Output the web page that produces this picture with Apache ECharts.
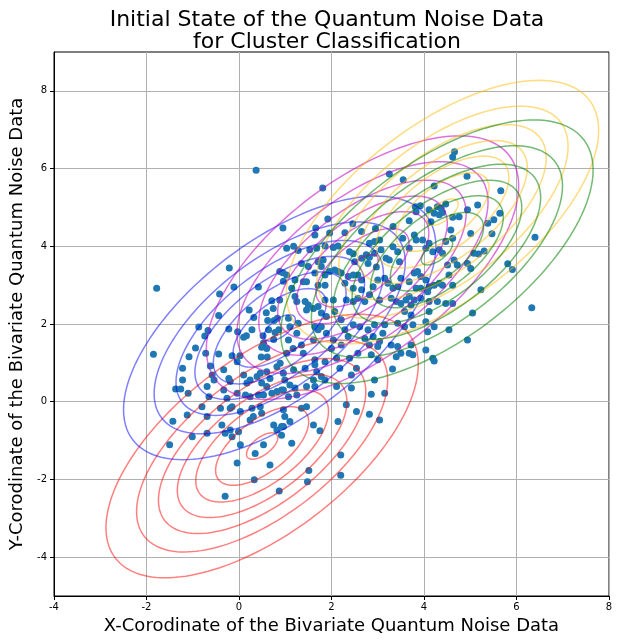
<!DOCTYPE html>
<html><head><meta charset="utf-8">
<script src="https://cdn.jsdelivr.net/npm/echarts@6/dist/echarts.min.js"></script>
<style>html,body{margin:0;padding:0;background:#fff}#c{width:619px;height:642px}</style>
</head><body><div id="c"></div>
<script>
const titleText = 'Initial State of the Quantum Noise Data\nfor Cluster Classification';
const xLabel = 'X-Corodinate of the Bivariate Quantum Noise Data';
const yLabel = 'Y-Corodinate of the Bivariate Quantum Noise Data';
const xRange = [-4, 8];
const yRange = [-5, 9];
const xTicks = [-4, -2, 0, 2, 4, 6, 8];
const yTicks = [-4, -2, 0, 2, 4, 6, 8];

// Gaussian components drawn as contour rings: centres, shared outer-contour shape, ring scales
const clusterCenters = [[0.50, -1.14], [0.88, 1.90], [2.67, 3.45], [4.40, 4.88], [4.28, 3.86]];
const contourCov = [11.4, 7.1, 11.5];
const ringScales = [1, 0.804, 0.664, 0.543, 0.425, 0.298, 0.10];
const ringColors = ['rgba(255,0,0,0.5)', 'rgba(0,0,255,0.5)', 'rgba(191,0,191,0.55)', 'rgba(255,185,0,0.5)', 'rgba(0,128,0,0.55)'];

const scatterPoints = [
[0.37,5.96],[1.81,5.50],[1.92,4.70],[0.95,4.47],[1.66,4.47],[-1.78,2.92],
[4.66,6.43],[4.62,6.30],[3.25,5.86],[3.55,5.71],[4.93,5.80],[4.22,5.55],[5.66,5.43],[5.16,5.06],[5.64,4.85],[5.51,4.68],[5.38,4.59],[5.47,4.32],[6.40,4.23],[5.81,3.55],[5.91,3.40],[5.23,2.88],[6.33,2.42],[5.18,3.80],[5.30,3.88],[2.46,4.58],[2.95,4.46],
[-1.85,1.22],[-1.37,0.33],[-1.26,0.33],[-1.10,0.22],[-1.43,-0.50],[-1.50,-1.11],[-1.22,0.86],[-1.22,0.56],[-0.30,-2.43],[0.33,-2.01],[0.87,-2.30],[1.51,-1.77],[1.48,-2.06],[0.67,-1.63],
[3.32,0.84],[4.22,1.05],[3.15,0.22],[2.20,-1.89],
[-0.21,3.44],[-0.42,2.77],[-0.11,2.95],[-0.44,2.22],[-0.87,1.92],[-0.67,1.83],[-0.74,1.69],[-0.22,1.87],[-0.03,1.80],[0.10,1.66],[0.16,1.70],[0.22,2.36],[0.32,2.17],[0.42,2.95],[0.59,2.29],[0.74,2.40],[0.62,2.09],[0.76,2.09],[0.83,2.15],[0.71,2.60],[0.88,2.62],[0.88,3.35],[0.95,3.32],[0.96,3.10],[0.28,1.85],[0.52,1.70],[0.53,1.51],[0.64,1.85],[0.78,1.78],[0.86,1.85],[0.75,1.60],[-0.94,1.38],[-0.72,1.25],[-0.44,1.23],[-0.15,1.18],[0.02,1.18],[0.49,1.40],[0.60,1.37],[0.48,1.15],[0.61,1.15],
[1.64,4.29],[2.39,3.86],[2.47,3.81],[2.65,3.69],[2.75,3.78],[2.82,3.72],[2.93,3.82],[2.50,3.60],[2.79,3.56],[2.97,3.47],
[1.03,3.95],[1.18,4.00],[1.28,3.89],[1.53,3.91],[1.68,3.95],[1.86,4.01],[2.04,3.97],[2.14,4.01],[1.96,4.34],[2.29,4.35],[2.65,4.38],[2.82,4.08],[2.93,4.12],
[1.35,3.56],[1.50,3.48],[1.71,3.60],[1.82,3.65],[1.78,3.48],[1.64,3.31],[1.86,3.26],[1.96,3.35],[2.07,3.39],[2.14,3.35],[2.21,3.31],[2.36,3.22],[2.47,3.26],[2.57,3.26],[2.65,3.13],
[1.03,3.26],[1.21,3.13],[1.14,2.92],[1.39,3.09],[1.46,3.09],[1.71,3.00],[1.86,3.00],
[2.29,3.05],[2.47,2.92],[2.65,2.88],[2.90,2.96],[2.82,2.75],[2.57,2.66],[2.72,2.58],[2.47,2.58],[2.32,2.62],
[1.21,2.71],[1.25,2.58],[1.43,2.58],[1.50,2.49],[1.46,2.36],[1.61,2.40],[1.71,2.45],[1.86,2.62],[2.04,2.62],[1.78,2.28],[1.89,2.19],[2.07,2.32],[2.21,2.11],
[1.07,2.15],[1.10,1.93],[1.28,2.02],[1.25,1.76],[1.07,1.59],[1.35,1.46],[1.17,1.37],[1.03,1.25],[1.39,1.25],[1.64,1.93],[1.71,1.85],[1.78,1.93],[1.61,1.59],[1.89,1.76],[2.04,1.59],[2.00,1.37],[2.29,1.85],[2.36,1.68],[2.47,1.98],[2.61,1.93],[2.79,1.85],[2.72,1.63],[2.93,1.98],[2.90,1.68],[2.82,1.46],[3.00,1.42],[2.57,1.25],[2.86,1.21],[2.21,1.46],
[3.81,5.02],[3.92,5.04],[3.83,4.89],[4.11,4.94],[4.29,5.02],[4.37,4.98],[4.47,5.09],[4.22,4.85],[4.33,4.81],[4.40,4.87],[4.15,4.63],[4.62,4.75],[4.76,4.76],[4.94,4.94],[3.68,4.66],
[3.33,4.51],[3.54,4.21],[3.79,4.29],[3.83,4.16],[3.97,4.16],[4.11,4.08],[4.04,3.95],[4.19,3.86],[4.33,3.91],[4.40,3.82],[4.47,4.12],[4.58,4.42],[4.62,4.21],[5.01,4.33],
[3.04,4.16],[3.07,3.91],[3.18,3.69],[3.25,3.65],[3.33,3.99],[3.43,3.86],[3.47,3.60],[3.68,3.95],
[4.51,3.52],[4.65,3.65],[4.72,3.52],[4.94,3.56],[5.01,3.43],[5.08,3.82],[4.54,3.26],[4.62,3.00],[4.40,3.00],
[3.00,3.13],[3.15,3.18],[3.22,3.05],[3.33,2.92],[3.43,2.96],[3.50,3.18],[3.68,3.09],[3.79,3.31],[3.86,3.35],[3.93,3.22],[4.04,3.13],[4.11,2.96],[4.22,3.00],[4.33,3.05],[4.08,2.83],[3.93,2.92],[3.83,2.92],
[3.04,2.62],[3.29,2.66],[3.40,2.58],[3.50,2.53],[3.61,2.62],[3.68,2.71],[3.72,2.49],[3.79,2.62],[3.93,2.66],[4.11,2.58],[4.29,2.58],[4.47,2.53],[4.62,2.53],[4.11,2.32],[3.72,2.23],[3.58,2.32],
[3.15,1.98],[3.43,2.02],[3.58,1.93],[3.76,1.98],[4.04,2.06],[4.08,1.80],[4.22,1.93],[4.54,1.85],[4.94,1.59],[5.05,2.28],
[3.29,1.46],[3.43,1.42],[3.72,1.46],[3.50,1.25],[3.68,1.25],[3.76,1.21],[3.40,1.16],[3.11,1.76],[3.04,1.55],[4.04,1.33],[4.19,1.12],
[-1.08,1.16],[-0.04,1.03],
[-0.62,0.92],[-0.58,0.69],[-0.54,0.56],[-0.22,0.60],[-0.19,0.52],[-0.33,0.82],[0.10,0.69],[0.17,0.48],[0.24,0.56],[0.39,0.65],[0.46,0.73],[0.60,0.77],[0.82,0.90],[0.89,0.99],[0.67,0.60],[0.49,0.48],[0.60,0.39],
[-0.69,0.39],[-0.33,0.30],[-0.26,0.09],[-0.04,0.22],[0.14,0.17],[0.24,0.13],[0.42,0.17],[0.53,0.17],[0.71,0.22],[0.82,0.26],[0.92,0.30],
[-0.65,0.13],[-0.80,-0.13],[-1.12,-0.34],[-0.69,-0.38],[-0.40,-0.17],[-0.19,-0.17],[-0.15,-0.13],[0.03,-0.25],[0.28,-0.17],[0.46,-0.13],[0.49,-0.30],[0.31,-0.38],[0.24,-0.47],
[-0.37,-0.60],[-0.19,-0.73],[-0.30,-0.81],[-0.15,-0.90],[-0.01,-0.77],[-0.69,-0.81],[-1.01,-0.90],[0.75,-0.60],[0.82,-0.73],[0.96,-0.64],[0.92,-0.86],
[0.53,-1.11],[0.35,-1.33],[0.03,-1.11],[-0.04,-1.58],
[1.64,1.08],[1.86,1.03],[2.11,1.12],[2.39,1.12],[3.00,1.08],
[0.96,0.73],[1.18,0.82],[1.43,0.86],[1.64,0.95],[1.68,0.77],[1.78,0.65],[1.86,0.56],[1.61,0.56],[1.64,0.39],[1.46,0.39],[1.21,0.35],[1.10,0.43],[0.99,0.56],[0.96,0.30],[1.25,0.17],[1.07,0.13],[2.11,0.39],[2.18,0.86],[2.43,0.69],[2.43,0.35],[2.54,0.86],[2.93,0.56],
[0.96,-0.21],[1.35,-0.17],[1.46,-0.13],[0.99,-0.38],[1.10,-0.51],[0.92,-0.64],[1.61,-0.60],[1.75,-0.75],[1.14,-1.07],[2.32,-0.08],[2.54,-0.25],[2.82,-0.32],[2.86,0.19],[3.04,-0.47],[2.14,-0.51],[2.20,-1.37]
];

const L11 = Math.sqrt(contourCov[0]);
const L21 = contourCov[1] / L11;
const L22 = Math.sqrt(contourCov[2] - L21 * L21);

function ringSeries(ci) {
  const c = clusterCenters[ci];
  return {
    type: 'custom',
    coordinateSystem: 'cartesian2d',
    silent: true,
    clip: true,
    z: 3,
    data: ringScales.map(s => [c[0], c[1], s]),
    encode: { x: 0, y: 1 },
    renderItem: function (params, api) {
      const cx = api.value(0), cy = api.value(1), s = api.value(2);
      const pts = [];
      const N = 160;
      for (let k = 0; k <= N; k++) {
        const t = 2 * Math.PI * k / N;
        const u = Math.cos(t), v = Math.sin(t);
        pts.push(api.coord([cx + s * L11 * u, cy + s * (L21 * u + L22 * v)]));
      }
      return { type: 'polyline', shape: { points: pts }, style: { stroke: ringColors[ci], lineWidth: 1.5, fill: null } };
    }
  };
}

const FONT = 'DejaVu Sans';
const chart = echarts.init(document.getElementById('c'), null, { renderer: 'canvas' });
chart.setOption({
  animation: false,
  backgroundColor: '#fff',
  title: {
    text: titleText,
    left: 322, top: 4, textAlign: 'center',
    textStyle: { fontFamily: FONT, fontSize: 22, fontWeight: 'normal', color: '#000', lineHeight: 22 }
  },
  grid: { left: 51, right: 10, top: 52, bottom: 46, show: true, borderColor: '#000', borderWidth: 1, backgroundColor: 'transparent' },
  xAxis: {
    type: 'value', min: xRange[0], max: xRange[1], interval: 2,
    name: xLabel, nameLocation: 'middle', nameGap: 20,
    nameTextStyle: { fontFamily: FONT, fontSize: 18, color: '#000' },
    axisLine: { show: true, onZero: false, lineStyle: { color: '#000', width: 1 } },
    axisTick: { show: true, inside: false, length: 4, lineStyle: { color: '#000' }, customValues: xTicks },
    axisLabel: { fontFamily: FONT, fontSize: 10, color: '#000', margin: 6, customValues: xTicks },
    splitLine: { show: true, lineStyle: { color: '#b0b0b0', width: 1 } }
  },
  yAxis: {
    type: 'value', min: yRange[0], max: yRange[1], interval: 1,
    name: yLabel, nameLocation: 'middle', nameGap: 28, nameRotate: 90,
    nameTextStyle: { fontFamily: FONT, fontSize: 18, color: '#000' },
    axisLine: { show: true, onZero: false, lineStyle: { color: '#000', width: 1 } },
    axisTick: { show: true, inside: false, length: 4, lineStyle: { color: '#000' }, customValues: yTicks },
    axisLabel: { fontFamily: FONT, fontSize: 10, color: '#000', margin: 7, customValues: yTicks },
    splitLine: { show: true, lineStyle: { color: '#b0b0b0', width: 1 } }
  },
  series: [
    {
      type: 'scatter', data: scatterPoints, symbolSize: 7, z: 2,
      itemStyle: { color: '#1f77b4', opacity: 1 }, silent: true
    },
    ringSeries(0), ringSeries(1), ringSeries(2), ringSeries(3), ringSeries(4)
  ]
});
</script></body></html>
